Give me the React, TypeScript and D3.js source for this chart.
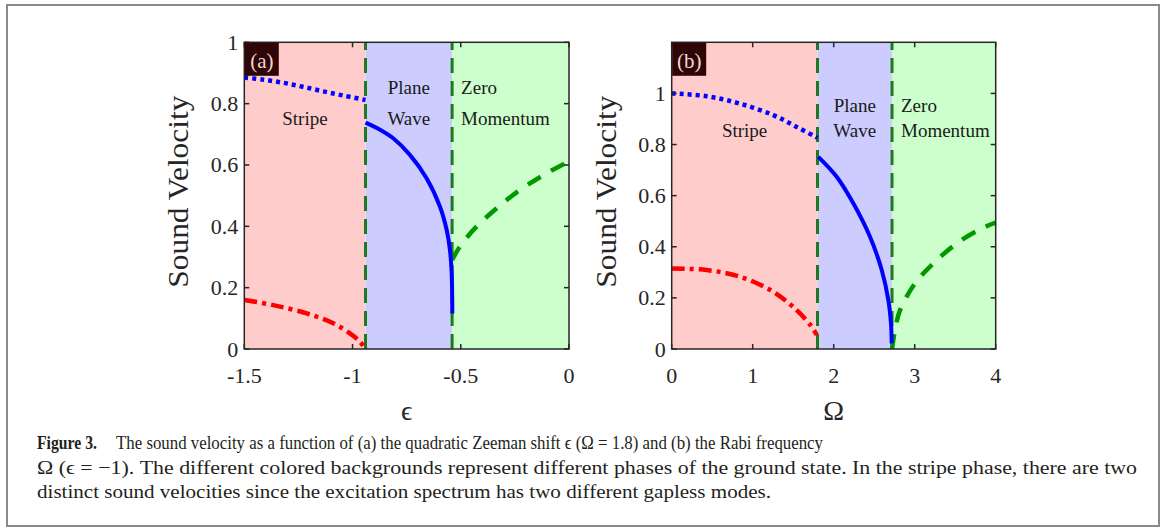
import { useEffect, useRef } from "react";
import * as d3 from "d3";

const W = 1165;
const H = 530;

// panel (a): sound velocity vs quadratic Zeeman shift epsilon
const epsTicks = [-1.5, -1, -0.5, 0];
const epsTickLabels = ["-1.5", "-1", "-0.5", "0"];
const epsPhases = [-1.5, -0.94, -0.54, 0];
const epsBlueDot = [[-1.5, 0.885], [-1.41, 0.878], [-1.32, 0.868], [-1.23, 0.855], [-1.135, 0.84], [-1.04, 0.826], [-0.94, 0.812]];
const epsBlueSolid = [[-0.94, 0.738], [-0.873, 0.715], [-0.812, 0.687], [-0.735, 0.633], [-0.658, 0.557], [-0.596, 0.464], [-0.565, 0.388], [-0.55, 0.323], [-0.542, 0.247], [-0.539, 0.116]];
const epsRed = [[-1.5, 0.16], [-1.366, 0.143], [-1.212, 0.116], [-1.089, 0.084], [-1.012, 0.051], [-0.966, 0.024], [-0.943, 0.002]];
const epsGreen = [[-0.54, 0.29], [-0.504, 0.334], [-0.434, 0.394], [-0.334, 0.459], [-0.227, 0.518], [-0.111, 0.57], [0, 0.612]];

// panel (b): sound velocity vs Rabi frequency Omega
const omTicks = [0, 1, 2, 3, 4];
const omPhases = [0, 1.8, 2.72, 4];
const omBlueDot = [[0, 1.0], [0.432, 0.989], [0.843, 0.96], [1.254, 0.915], [1.543, 0.869], [1.8, 0.826]];
const omBlueSolid = [[1.81, 0.752], [2.037, 0.674], [2.242, 0.57], [2.448, 0.439], [2.593, 0.309], [2.674, 0.192], [2.707, 0.1], [2.716, 0.022]];
const omRed = [[0, 0.315], [0.432, 0.309], [0.843, 0.283], [1.254, 0.224], [1.543, 0.152], [1.728, 0.087], [1.79, 0.055]];
const omGreen = [[2.72, 0.0], [2.76, 0.08], [2.819, 0.152], [3.004, 0.257], [3.23, 0.335], [3.519, 0.413], [3.827, 0.472], [4, 0.494]];

const vTicks = [0, 0.2, 0.4, 0.6, 0.8, 1];
const phaseColors = ["#ffcccc", "#ccccff", "#ccffcc"];

const captionTitle = "Figure 3.";
const captionLines = [
  { x: 116, text: "The sound velocity as a function of (a) the quadratic Zeeman shift \u03f5 (\u03a9 = 1.8) and (b) the Rabi frequency", len: 707 },
  { x: 37, text: "\u03a9 (\u03f5 = \u22121). The different colored backgrounds represent different phases of the ground state. In the stripe phase, there are two", len: 1100 },
  { x: 37, text: "distinct sound velocities since the excitation spectrum has two different gapless modes.", len: 734 },
];

const SERIF = "'Liberation Serif', 'DejaVu Serif', serif";

type Panel = {
  left: number;
  right: number;
  xDomain: [number, number];
  yMax: number;
  ticks: number[];
  tickLabels: string[];
  phases: number[];
  blueDot: number[][];
  blueSolid: number[][];
  red: number[][];
  green: number[][];
  tag: string;
  xLabel: string;
  stripeY: number;
  planeY: number;
};

const TOP = 42.3;
const BOTTOM = 349;

function drawPanel(root: d3.Selection<SVGGElement, unknown, null, undefined>, p: Panel) {
  const x = d3.scaleLinear().domain(p.xDomain).range([p.left, p.right]);
  const y = d3.scaleLinear().domain([0, p.yMax]).range([BOTTOM, TOP]);
  const g = root.append("g");

  // phase backgrounds
  for (let i = 0; i < 3; i++) {
    g.append("rect")
      .attr("x", x(p.phases[i]))
      .attr("y", TOP)
      .attr("width", x(p.phases[i + 1]) - x(p.phases[i]))
      .attr("height", BOTTOM - TOP)
      .attr("fill", phaseColors[i]);
  }

  // phase boundaries
  [p.phases[1], p.phases[2]].forEach((b) => {
    g.append("line")
      .attr("x1", x(b)).attr("x2", x(b))
      .attr("y1", BOTTOM).attr("y2", TOP)
      .attr("stroke", "#1f7a1f")
      .attr("stroke-width", 3)
      .attr("stroke-dasharray", "15,8");
  });

  const line = d3
    .line<number[]>()
    .x((d) => x(d[0]))
    .y((d) => y(d[1]))
    .curve(d3.curveCatmullRom.alpha(0.5));

  const curves: [number[][], string, number, string][] = [
    [p.red, "#ff0000", 4.5, "13,5,4,5"],
    [p.green, "#009900", 4.5, "15,12"],
    [p.blueDot, "#0000ff", 4.5, "4,4"],
    [p.blueSolid, "#0000ff", 4, ""],
  ];
  curves.forEach(([data, color, w, dash]) => {
    g.append("path")
      .attr("d", line(data))
      .attr("fill", "none")
      .attr("stroke", color)
      .attr("stroke-width", w)
      .attr("stroke-dasharray", dash || null);
  });

  // axes box and inward ticks
  g.append("rect")
    .attr("x", p.left).attr("y", TOP)
    .attr("width", p.right - p.left).attr("height", BOTTOM - TOP)
    .attr("fill", "none").attr("stroke", "#262626").attr("stroke-width", 1.5);

  p.ticks.forEach((t, i) => {
    g.append("line").attr("x1", x(t)).attr("x2", x(t)).attr("y1", BOTTOM).attr("y2", BOTTOM - 5)
      .attr("stroke", "#262626").attr("stroke-width", 1.5);
    g.append("line").attr("x1", x(t)).attr("x2", x(t)).attr("y1", TOP).attr("y2", TOP + 5)
      .attr("stroke", "#262626").attr("stroke-width", 1.5);
    g.append("text")
      .attr("x", x(t)).attr("y", 383)
      .attr("text-anchor", "middle")
      .attr("font-family", SERIF).attr("font-size", 22).attr("fill", "#262626")
      .text(p.tickLabels[i]);
  });
  vTicks.forEach((t) => {
    g.append("line").attr("x1", p.left).attr("x2", p.left + 5).attr("y1", y(t)).attr("y2", y(t))
      .attr("stroke", "#262626").attr("stroke-width", 1.5);
    g.append("line").attr("x1", p.right).attr("x2", p.right - 5).attr("y1", y(t)).attr("y2", y(t))
      .attr("stroke", "#262626").attr("stroke-width", 1.5);
    g.append("text")
      .attr("x", p.left - 6).attr("y", y(t) + 7.5)
      .attr("text-anchor", "end")
      .attr("font-family", SERIF).attr("font-size", 22).attr("fill", "#262626")
      .text(String(t));
  });

  // axis labels
  g.append("text")
    .attr("transform", `translate(${p.left - 56},${(TOP + BOTTOM) / 2 - 4}) rotate(-90)`)
    .attr("text-anchor", "middle")
    .attr("font-family", SERIF).attr("font-size", 29).attr("fill", "#262626")
    .attr("textLength", 192).attr("lengthAdjust", "spacingAndGlyphs")
    .text("Sound Velocity");
  g.append("text")
    .attr("x", (p.left + p.right) / 2).attr("y", 420)
    .attr("text-anchor", "middle")
    .attr("font-family", SERIF).attr("font-size", 28).attr("fill", "#262626")
    .text(p.xLabel);

  // phase names
  const mid = (a: number, b: number) => (x(a) + x(b)) / 2;
  const txt = (tx: number, ty: number, s: string, anchor: string) =>
    g.append("text")
      .attr("x", tx).attr("y", ty)
      .attr("text-anchor", anchor)
      .attr("font-family", SERIF).attr("font-size", 19).attr("fill", "#1a1a1a")
      .text(s);
  txt(mid(p.phases[0], p.phases[1]), p.stripeY, "Stripe", "middle");
  txt(mid(p.phases[1], p.phases[2]), p.planeY, "Plane", "middle");
  txt(mid(p.phases[1], p.phases[2]), p.stripeY, "Wave", "middle");
  txt(x(p.phases[2]) + 9, p.planeY, "Zero", "start");
  txt(x(p.phases[2]) + 9, p.stripeY, "Momentum", "start");

  // panel tag
  g.append("rect")
    .attr("x", p.left + 0.5).attr("y", TOP + 0.5)
    .attr("width", 34).attr("height", 33)
    .attr("fill", "#2e0606");
  g.append("text")
    .attr("x", p.left + 17.5).attr("y", TOP + 26)
    .attr("text-anchor", "middle")
    .attr("font-family", SERIF).attr("font-size", 21).attr("fill", "#f2d6d6")
    .text(p.tag);
}

export default function App() {
  const svgRef = useRef<SVGSVGElement>(null);

  useEffect(() => {
    if (!svgRef.current) return;
    document.body.style.margin = "0";
    const svg = d3.select(svgRef.current);
    svg.selectAll("*").remove();
    const root = svg.append("g");

    root.append("rect")
      .attr("x", 0).attr("y", 0).attr("width", W).attr("height", H).attr("fill", "#ffffff");
    root.append("rect")
      .attr("x", 7).attr("y", 5).attr("width", 1152).attr("height", 521)
      .attr("fill", "none").attr("stroke", "#8a8a8a").attr("stroke-width", 2);

    drawPanel(root, {
      left: 244.3, right: 569, xDomain: [-1.5, 0], yMax: 1,
      ticks: epsTicks, tickLabels: epsTickLabels, phases: epsPhases,
      blueDot: epsBlueDot, blueSolid: epsBlueSolid, red: epsRed, green: epsGreen,
      tag: "(a)", xLabel: "\u03f5", stripeY: 125, planeY: 94,
    });
    drawPanel(root, {
      left: 671.7, right: 995.7, xDomain: [0, 4], yMax: 1.2,
      ticks: omTicks, tickLabels: omTicks.map(String), phases: omPhases,
      blueDot: omBlueDot, blueSolid: omBlueSolid, red: omRed, green: omGreen,
      tag: "(b)", xLabel: "\u03a9", stripeY: 137, planeY: 112,
    });

    // caption
    root.append("text")
      .attr("x", 37).attr("y", 449)
      .attr("font-family", SERIF).attr("font-size", 19).attr("font-weight", "bold").attr("fill", "#231f20")
      .attr("textLength", 60).attr("lengthAdjust", "spacingAndGlyphs")
      .text(captionTitle);
    captionLines.forEach((c, i) => {
      root.append("text")
        .attr("x", c.x).attr("y", 449 + i * 24.5)
        .attr("font-family", SERIF).attr("font-size", 19).attr("fill", "#231f20")
        .attr("textLength", c.len).attr("lengthAdjust", "spacingAndGlyphs")
        .text(c.text);
    });
  }, []);

  return <svg ref={svgRef} width={W} height={H} viewBox={`0 0 ${W} ${H}`} style={{ display: "block" }} />;
}
